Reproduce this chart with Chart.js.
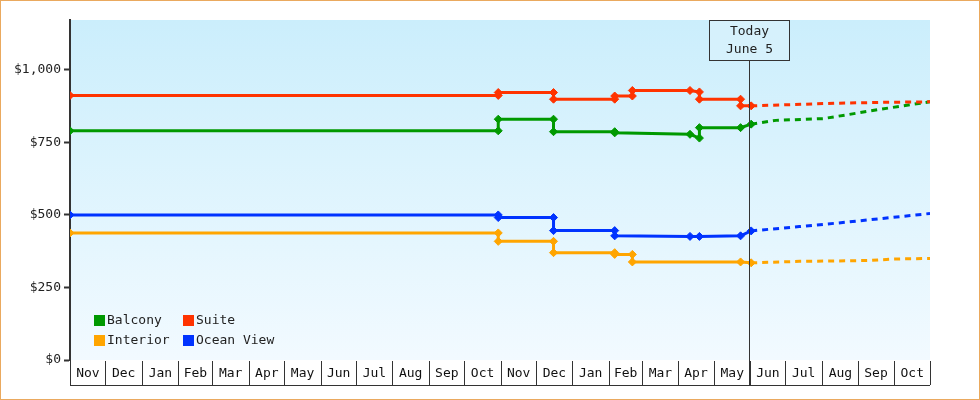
<!DOCTYPE html>
<html><head><meta charset="utf-8">
<script src="https://cdn.jsdelivr.net/npm/chart.js@4"></script>
<style>html,body{margin:0;padding:0;background:#fff}#w{width:980px;height:400px;box-sizing:border-box;border:1px solid #eaa95e;position:relative}canvas{display:block}</style>
</head><body><div id="w"><canvas id="c" width="978" height="398"></canvas></div>
<script>
// x values are days since Nov 1, 2023
const monthLabels=["Nov","Dec","Jan","Feb","Mar","Apr","May","Jun","Jul","Aug","Sep","Oct","Nov","Dec","Jan","Feb","Mar","Apr","May","Jun","Jul","Aug","Sep","Oct"];
const monthStarts=[0,30,61,92,121,152,182,213,243,274,305,335,366,396,427,458,486,517,547,578,608,639,670,700,731];
const todayDay=577;
const yTicks=[0,250,500,750,1000];
const suiteX=[0,364,364,411,411,463,463,478,478,527,535,535,570,570,579];
const suiteY=[912,912,922,922,899,899,910,910,929,929,924,899,899,876,876];
const balconyX=[0,364,364,411,411,463,463,527,535,535,570,579];
const balconyY=[790,790,830,830,787,787,783,778,765,801,801,813];
const oceanX=[0,364,364,411,411,463,463,527,535,570,579];
const oceanY=[500,500,491,491,446,446,428,426,426,428,445];
const interiorX=[0,364,364,411,411,463,463,478,478,570,579];
const interiorY=[438,438,409,409,370,370,364,364,338,338,335];
const suiteFX=[579,610,650,690,731];const suiteFY=[876,880,885,888,890];
const balconyFX=[579,600,640,660,690,731];const balconyFY=[813,826,832,845,865,890];
const oceanFX=[579,620,660,700,731];const oceanFY=[445,460,475,492,505];
const interiorFX=[579,620,680,700,731];const interiorFY=[335,340,343,348,350];
const colors={Balcony:'#009900',Suite:'#ff3300',Interior:'#ffa500','Ocean View':'#0033ff'};
const pts=(xs,ys)=>xs.map((x,i)=>({x,y:ys[i]}));
function solid(name,xs,ys){return {label:name,data:pts(xs,ys),borderColor:colors[name],backgroundColor:colors[name],borderWidth:3,pointStyle:'rectRot',pointRadius:4,pointHoverRadius:4,pointBorderWidth:1,tension:0};}
function dash(name,xs,ys){return {label:name+' forecast',data:pts(xs,ys),borderColor:colors[name],borderWidth:3,borderDash:[6,5],pointRadius:0,tension:0};}
const mono='"DejaVu Sans Mono", monospace';
const deco={id:'deco',
beforeDraw(ch){const a=ch.chartArea,c=ch.ctx;const g=c.createLinearGradient(0,a.top,0,a.bottom);g.addColorStop(0,'#cbeefc');g.addColorStop(1,'#f2faff');c.fillStyle=g;c.fillRect(a.left,a.top,a.right-a.left,a.bottom-a.top);},
afterDraw(ch){const c=ch.ctx,x=ch.scales.x,a=ch.chartArea;c.save();
c.strokeStyle='#333';c.lineWidth=1;c.font='13px '+mono;c.fillStyle='#111';c.textAlign='center';c.textBaseline='middle';
const top=a.bottom+1,bot=a.bottom+25;
for(let i=0;i<monthStarts.length;i++){const px=Math.round(x.getPixelForValue(monthStarts[i]))+0.5;c.beginPath();c.moveTo(px,top);c.lineTo(px,bot);c.stroke();
if(i<monthLabels.length){const nx=x.getPixelForValue(monthStarts[i+1]);c.fillText(monthLabels[i],(px+nx)/2,top+13);}}
c.beginPath();c.moveTo(a.left,bot+0.5);c.lineTo(a.right,bot+0.5);c.stroke();
const tx=Math.round(x.getPixelForValue(todayDay))+0.5;
c.beginPath();c.moveTo(tx,a.top+40);c.lineTo(tx,bot);c.stroke();
c.fillStyle='#d6f1fc';c.fillRect(tx-40,a.top,80,40);c.strokeRect(tx-40,a.top+0.5,80,40);
c.fillStyle='#222';c.fillText('Today',tx,a.top+12);c.fillText('June 5',tx,a.top+30);
const leg=[['Balcony',93,320],['Suite',182,320],['Interior',93,340],['Ocean View',182,340]];
c.textAlign='left';
leg.forEach(([n,lx,ly])=>{c.fillStyle=colors[n];c.fillRect(lx,ly-6,11,11);c.fillStyle='#222';c.fillText(n,lx+13,ly);});
c.restore();}};
new Chart(document.getElementById('c'),{type:'line',
data:{datasets:[dash('Suite',suiteFX,suiteFY),dash('Balcony',balconyFX,balconyFY),dash('Ocean View',oceanFX,oceanFY),dash('Interior',interiorFX,interiorFY),
solid('Suite',suiteX,suiteY),solid('Balcony',balconyX,balconyY),solid('Ocean View',oceanX,oceanY),solid('Interior',interiorX,interiorY)]},
options:{responsive:false,animation:false,events:[],
layout:{padding:{left:6,right:49,top:19,bottom:39}},
plugins:{legend:{display:false},tooltip:{enabled:false}},
scales:{x:{type:'linear',min:0,max:731,display:false},
y:{min:0,max:1172,afterBuildTicks(s){s.ticks=yTicks.map(v=>({value:v}));},afterFit(s){s.width=63;},
grid:{drawOnChartArea:false,color:'#333',tickLength:6,tickWidth:2},border:{color:'#333',width:2},
ticks:{font:{family:mono,size:13},color:'#222',callback:v=>'$'+v.toLocaleString('en-US')}}}},
plugins:[deco]});
</script>
</body></html>
